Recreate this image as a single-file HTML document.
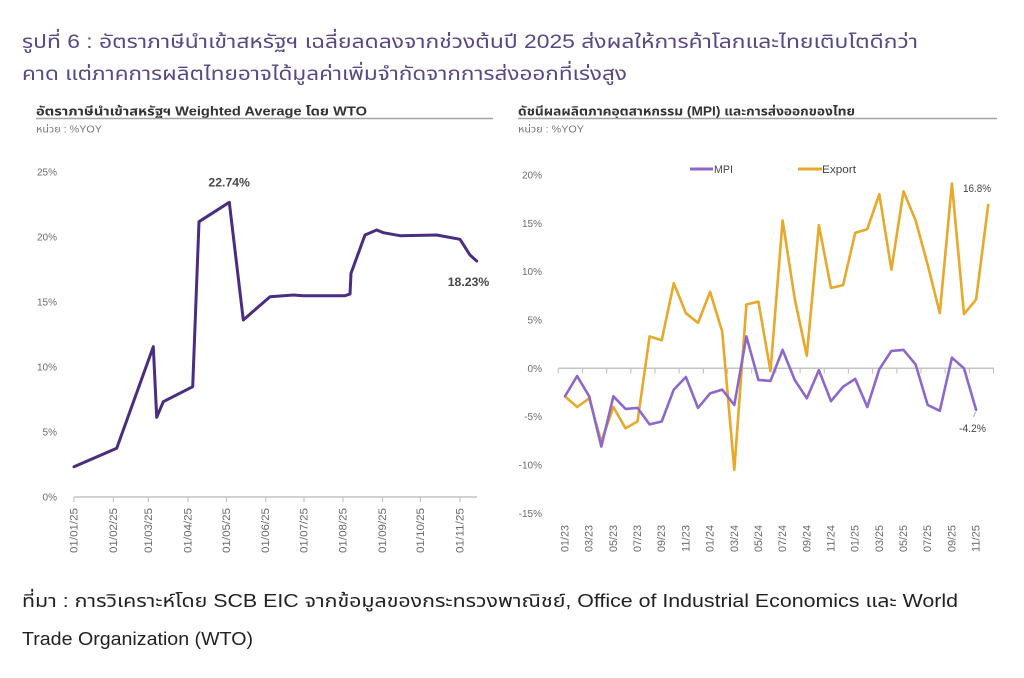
<!DOCTYPE html>
<html>
<head>
<meta charset="utf-8">
<style>
  html,body{margin:0;padding:0;background:#fff;}
  svg{display:block;}
  .th{font-family:"Liberation Sans","Noto Sans Thai","Loma","Garuda","Tlwg Typo","DejaVu Sans",sans-serif;}
  .ax{font-family:"Liberation Sans","DejaVu Sans",sans-serif;fill:#6b6b6b;}
</style>
</head>
<body>
<svg width="1024" height="678" viewBox="0 0 1024 678" xmlns="http://www.w3.org/2000/svg">
  <rect width="1024" height="678" fill="#fff"/>

  <!-- Main title -->
  <text class="th" x="22" y="48" font-size="19" fill="#5a4785" textLength="896" lengthAdjust="spacingAndGlyphs">รูปที่ 6 : อัตราภาษีนำเข้าสหรัฐฯ เฉลี่ยลดลงจากช่วงต้นปี 2025 ส่งผลให้การค้าโลกและไทยเติบโตดีกว่า</text>
  <text class="th" x="22" y="80" font-size="19" fill="#5a4785" textLength="605" lengthAdjust="spacingAndGlyphs">คาด แต่ภาคการผลิตไทยอาจได้มูลค่าเพิ่มจำกัดจากการส่งออกที่เร่งสูง</text>

  <!-- ============ LEFT CHART ============ -->
  <text class="th" x="36" y="115.5" font-size="12.5" font-weight="bold" fill="#333" textLength="331" lengthAdjust="spacingAndGlyphs">อัตราภาษีนำเข้าสหรัฐฯ Weighted Average โดย WTO</text>
  <line x1="36" y1="118.5" x2="493" y2="118.5" stroke="#a6a6a6" stroke-width="1.5"/>
  <text class="th" x="36" y="132.5" font-size="10" fill="#777" textLength="66" lengthAdjust="spacingAndGlyphs">หน่วย : %YOY</text>

  <!-- y labels -->
  <g class="ax" font-size="10" text-anchor="end">
    <text x="57" y="175.5">25%</text>
    <text x="57" y="240.5">20%</text>
    <text x="57" y="305.5">15%</text>
    <text x="57" y="370.5">10%</text>
    <text x="57" y="435.5">5%</text>
    <text x="57" y="500.5">0%</text>
  </g>

  <!-- axis -->
  <line x1="74" y1="497" x2="477" y2="497" stroke="#c4c4c4" stroke-width="1.5"/>
  <g stroke="#c4c4c4" stroke-width="1.2">
    <line x1="74" y1="497" x2="74" y2="502"/>
    <line x1="113.4" y1="497" x2="113.4" y2="502"/>
    <line x1="148.3" y1="497" x2="148.3" y2="502"/>
    <line x1="188" y1="497" x2="188" y2="502"/>
    <line x1="226.5" y1="497" x2="226.5" y2="502"/>
    <line x1="265.7" y1="497" x2="265.7" y2="502"/>
    <line x1="304" y1="497" x2="304" y2="502"/>
    <line x1="343" y1="497" x2="343" y2="502"/>
    <line x1="382.5" y1="497" x2="382.5" y2="502"/>
    <line x1="420.4" y1="497" x2="420.4" y2="502"/>
    <line x1="460" y1="497" x2="460" y2="502"/>
  </g>

  <!-- x labels (rotated) -->
  <g class="ax" font-size="11" text-anchor="end">
    <text transform="translate(77.5,508) rotate(-90)" textLength="45" lengthAdjust="spacingAndGlyphs">01/01/25</text>
    <text transform="translate(116.9,508) rotate(-90)" textLength="45" lengthAdjust="spacingAndGlyphs">01/02/25</text>
    <text transform="translate(151.8,508) rotate(-90)" textLength="45" lengthAdjust="spacingAndGlyphs">01/03/25</text>
    <text transform="translate(191.5,508) rotate(-90)" textLength="45" lengthAdjust="spacingAndGlyphs">01/04/25</text>
    <text transform="translate(230,508) rotate(-90)" textLength="45" lengthAdjust="spacingAndGlyphs">01/05/25</text>
    <text transform="translate(269.2,508) rotate(-90)" textLength="45" lengthAdjust="spacingAndGlyphs">01/06/25</text>
    <text transform="translate(307.5,508) rotate(-90)" textLength="45" lengthAdjust="spacingAndGlyphs">01/07/25</text>
    <text transform="translate(346.5,508) rotate(-90)" textLength="45" lengthAdjust="spacingAndGlyphs">01/08/25</text>
    <text transform="translate(386,508) rotate(-90)" textLength="45" lengthAdjust="spacingAndGlyphs">01/09/25</text>
    <text transform="translate(423.9,508) rotate(-90)" textLength="45" lengthAdjust="spacingAndGlyphs">01/10/25</text>
    <text transform="translate(463.5,508) rotate(-90)" textLength="45" lengthAdjust="spacingAndGlyphs">01/11/25</text>
  </g>

  <!-- series -->
  <polyline fill="none" stroke="#4a2c80" stroke-width="3" stroke-linejoin="round" stroke-linecap="round"
    points="74,466.7 116.7,448.3 153.3,346.7 156.7,417.3 163.3,401.7 192.7,386.7 199,221.7 229.3,202.3 243.3,320 270,296.7 293.3,295 303.3,295.7 345,295.7 350,294 351,273.3 365,235 376.7,230 383.3,232.7 400,235.7 436.7,235 460,239.3 470,255 476.7,261"/>

  <text x="229.2" y="186.5" font-family="Liberation Sans, sans-serif" font-size="12" font-weight="bold" fill="#474747" text-anchor="middle" textLength="41.5" lengthAdjust="spacingAndGlyphs">22.74%</text>
  <text x="468.5" y="286" font-family="Liberation Sans, sans-serif" font-size="12" font-weight="bold" fill="#474747" text-anchor="middle" textLength="41.5" lengthAdjust="spacingAndGlyphs">18.23%</text>

  <!-- ============ RIGHT CHART ============ -->
  <text class="th" x="518" y="115.5" font-size="12.5" font-weight="bold" fill="#333" textLength="337" lengthAdjust="spacingAndGlyphs">ดัชนีผลผลิตภาคอุตสาหกรรม (MPI) และการส่งออกของไทย</text>
  <line x1="518" y1="118.5" x2="997" y2="118.5" stroke="#a6a6a6" stroke-width="1.5"/>
  <text class="th" x="518" y="132.5" font-size="10" fill="#777" textLength="66" lengthAdjust="spacingAndGlyphs">หน่วย : %YOY</text>

  <!-- legend -->
  <line x1="690" y1="169" x2="713" y2="169" stroke="#8c68cc" stroke-width="3"/>
  <text x="714" y="173" font-family="Liberation Sans, sans-serif" font-size="11" fill="#444" textLength="19" lengthAdjust="spacingAndGlyphs">MPI</text>
  <line x1="798" y1="169" x2="822" y2="169" stroke="#e8a82a" stroke-width="3"/>
  <text x="822" y="173" font-family="Liberation Sans, sans-serif" font-size="11" fill="#444" textLength="34" lengthAdjust="spacingAndGlyphs">Export</text>

  <!-- y labels -->
  <g class="ax" font-size="10" text-anchor="end">
    <text x="542" y="178.5">20%</text>
    <text x="542" y="226.8">15%</text>
    <text x="542" y="275.2">10%</text>
    <text x="542" y="323.5">5%</text>
    <text x="542" y="371.8">0%</text>
    <text x="542" y="420.2">-5%</text>
    <text x="542" y="468.5">-10%</text>
    <text x="542" y="516.8">-15%</text>
  </g>

  <!-- axis -->
  <line x1="558.3" y1="368.3" x2="994" y2="368.3" stroke="#c4c4c4" stroke-width="1.5"/>
  <g stroke="#c4c4c4" stroke-width="1.2">
    <line x1="558.3" y1="368.3" x2="558.3" y2="373.5"/>
    <line x1="582.5" y1="368.3" x2="582.5" y2="373.5"/>
    <line x1="606.7" y1="368.3" x2="606.7" y2="373.5"/>
    <line x1="630.8" y1="368.3" x2="630.8" y2="373.5"/>
    <line x1="655" y1="368.3" x2="655" y2="373.5"/>
    <line x1="679.2" y1="368.3" x2="679.2" y2="373.5"/>
    <line x1="703.4" y1="368.3" x2="703.4" y2="373.5"/>
    <line x1="727.6" y1="368.3" x2="727.6" y2="373.5"/>
    <line x1="751.7" y1="368.3" x2="751.7" y2="373.5"/>
    <line x1="775.9" y1="368.3" x2="775.9" y2="373.5"/>
    <line x1="800.1" y1="368.3" x2="800.1" y2="373.5"/>
    <line x1="824.3" y1="368.3" x2="824.3" y2="373.5"/>
    <line x1="848.5" y1="368.3" x2="848.5" y2="373.5"/>
    <line x1="872.6" y1="368.3" x2="872.6" y2="373.5"/>
    <line x1="896.8" y1="368.3" x2="896.8" y2="373.5"/>
    <line x1="921" y1="368.3" x2="921" y2="373.5"/>
    <line x1="945.2" y1="368.3" x2="945.2" y2="373.5"/>
    <line x1="969.4" y1="368.3" x2="969.4" y2="373.5"/>
    <line x1="993.5" y1="368.3" x2="993.5" y2="373.5"/>
  </g>

  <!-- x labels -->
  <g class="ax" font-size="11" text-anchor="end">
    <text transform="translate(568.5,525) rotate(-90)" textLength="27" lengthAdjust="spacingAndGlyphs">01/23</text>
    <text transform="translate(592.7,525) rotate(-90)" textLength="27" lengthAdjust="spacingAndGlyphs">03/23</text>
    <text transform="translate(616.9,525) rotate(-90)" textLength="27" lengthAdjust="spacingAndGlyphs">05/23</text>
    <text transform="translate(641,525) rotate(-90)" textLength="27" lengthAdjust="spacingAndGlyphs">07/23</text>
    <text transform="translate(665.2,525) rotate(-90)" textLength="27" lengthAdjust="spacingAndGlyphs">09/23</text>
    <text transform="translate(689.4,525) rotate(-90)" textLength="27" lengthAdjust="spacingAndGlyphs">11/23</text>
    <text transform="translate(713.6,525) rotate(-90)" textLength="27" lengthAdjust="spacingAndGlyphs">01/24</text>
    <text transform="translate(737.8,525) rotate(-90)" textLength="27" lengthAdjust="spacingAndGlyphs">03/24</text>
    <text transform="translate(761.9,525) rotate(-90)" textLength="27" lengthAdjust="spacingAndGlyphs">05/24</text>
    <text transform="translate(786.1,525) rotate(-90)" textLength="27" lengthAdjust="spacingAndGlyphs">07/24</text>
    <text transform="translate(810.3,525) rotate(-90)" textLength="27" lengthAdjust="spacingAndGlyphs">09/24</text>
    <text transform="translate(834.5,525) rotate(-90)" textLength="27" lengthAdjust="spacingAndGlyphs">11/24</text>
    <text transform="translate(858.7,525) rotate(-90)" textLength="27" lengthAdjust="spacingAndGlyphs">01/25</text>
    <text transform="translate(882.8,525) rotate(-90)" textLength="27" lengthAdjust="spacingAndGlyphs">03/25</text>
    <text transform="translate(907,525) rotate(-90)" textLength="27" lengthAdjust="spacingAndGlyphs">05/25</text>
    <text transform="translate(931.2,525) rotate(-90)" textLength="27" lengthAdjust="spacingAndGlyphs">07/25</text>
    <text transform="translate(955.4,525) rotate(-90)" textLength="27" lengthAdjust="spacingAndGlyphs">09/25</text>
    <text transform="translate(979.6,525) rotate(-90)" textLength="27" lengthAdjust="spacingAndGlyphs">11/25</text>
  </g>

  <!-- Export series -->
  <polyline fill="none" stroke="#e8a82a" stroke-width="2.6" stroke-linejoin="round" stroke-linecap="round"
    points="565,396.3 577.1,407 589.2,398.3 601.3,441.8 613.4,407 625.5,428.3 637.5,421.5 649.6,336.4 661.7,340.3 673.8,283.2 685.9,313.2 698,322.9 710.1,291.9 722.2,331.6 734.3,469.8 746.4,304.5 758.4,301.6 770.5,371.2 782.6,220.4 794.7,298.7 806.8,355.7 818.9,225.2 831,288 843.1,285.1 855.2,232.9 867.3,229.1 879.3,194.2 891.4,269.7 903.5,191.3 915.6,220.4 927.7,264.8 939.8,313.2 951.9,183.6 964,314.1 976.1,299.6 988.2,204.9"/>

  <!-- MPI series -->
  <polyline fill="none" stroke="#8c68cc" stroke-width="2.6" stroke-linejoin="round" stroke-linecap="round"
    points="565,396.3 577.1,376 589.2,396.3 601.3,446.6 613.4,396.3 625.5,408.9 637.5,407.9 649.6,424.4 661.7,421.5 673.8,389.6 685.9,377 698,407.9 710.1,393.4 722.2,389.6 734.3,405 746.4,336.4 758.4,379.9 770.5,380.9 782.6,349.9 794.7,379.9 806.8,398.3 818.9,370.2 831,401.2 843.1,386.7 855.2,378.9 867.3,407 879.3,369.3 891.4,350.9 903.5,349.9 915.6,364.4 927.7,405 939.8,410.8 951.9,357.7 964,368.3 976.1,409.9"/>

  <text x="977" y="192" font-family="Liberation Sans, sans-serif" font-size="11" fill="#444" text-anchor="middle" textLength="28" lengthAdjust="spacingAndGlyphs">16.8%</text>
  <line x1="975.5" y1="412" x2="973.5" y2="417" stroke="#999" stroke-width="0.8"/>
  <text x="972.5" y="432" font-family="Liberation Sans, sans-serif" font-size="11" fill="#444" text-anchor="middle" textLength="27" lengthAdjust="spacingAndGlyphs">-4.2%</text>

  <!-- Footer -->
  <text class="th" x="22" y="607" font-size="18" fill="#222" textLength="936" lengthAdjust="spacingAndGlyphs">ที่มา : การวิเคราะห์โดย SCB EIC จากข้อมูลของกระทรวงพาณิชย์, Office of Industrial Economics และ World</text>
  <text class="th" x="22" y="645" font-size="18" fill="#222" textLength="231" lengthAdjust="spacingAndGlyphs">Trade Organization (WTO)</text>
</svg>
</body>
</html>
